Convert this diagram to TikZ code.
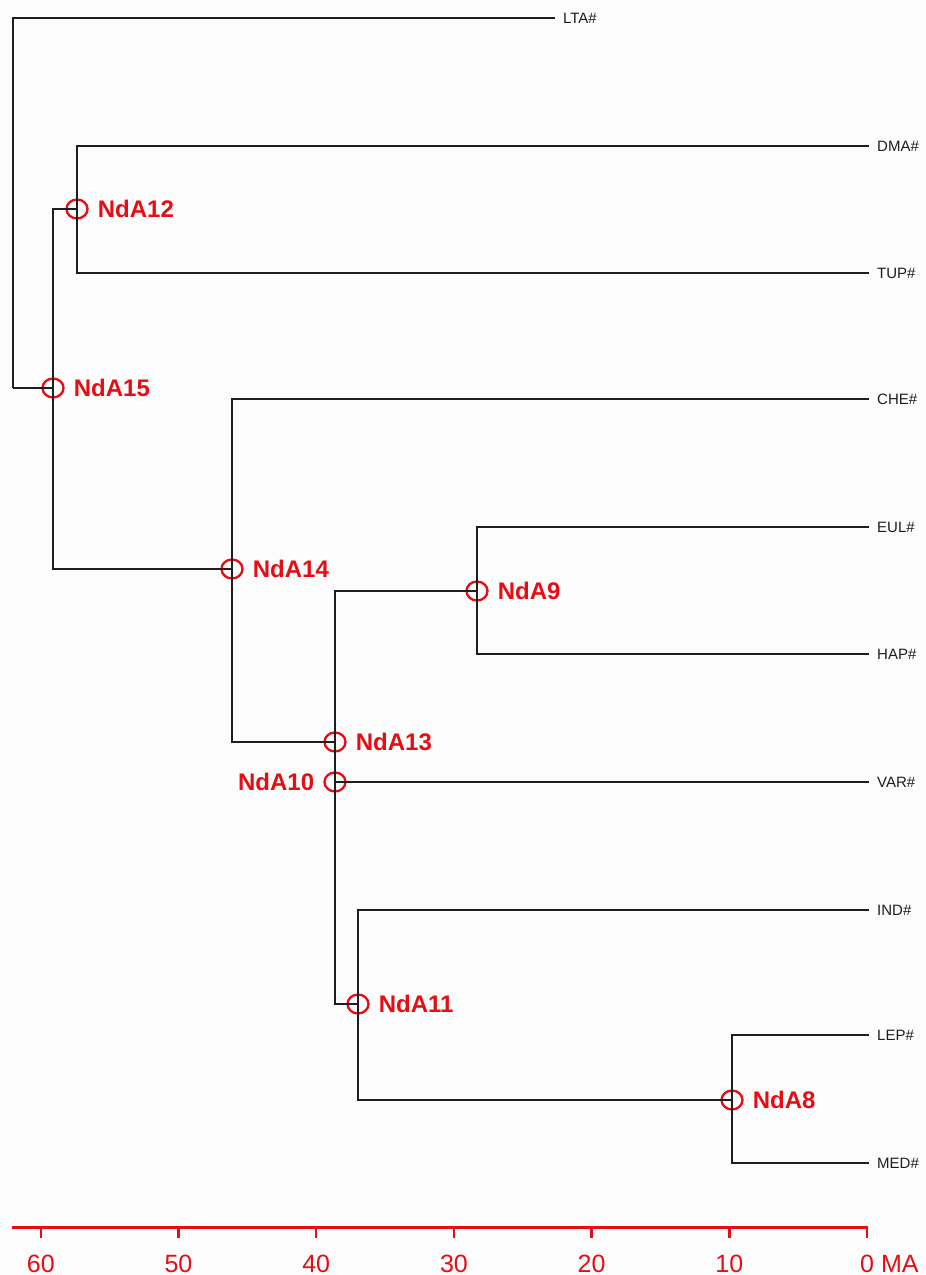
\documentclass[tikz,border=0pt]{standalone}
\usepackage{fontspec}
\setmainfont{Liberation Sans}
\usepackage{xcolor}
\usepackage{tikz}
\usetikzlibrary{positioning,shapes.geometric}

\definecolor{ndred}{RGB}{228,14,20}
\definecolor{branchcol}{RGB}{30,30,30}
\definecolor{paper}{RGB}{252,252,252}

\begin{document}
\begin{tikzpicture}[
  x=1pt, y=-1pt,
  branch/.style={draw=branchcol, line width=2pt},
  nd/.style={draw=ndred, ellipse, line width=2.3pt, minimum width=21pt, minimum height=19pt, inner sep=0pt},
  ndlabel/.style={text=ndred, inner sep=1pt, font=\fontsize{24}{26}\selectfont\bfseries},
  leaf/.style={anchor=west, inner sep=8pt, text=branchcol, font=\fontsize{15}{17}\selectfont},
  ageaxis/.style={draw=ndred, line width=3pt},
  agetick/.style={draw=ndred, line width=2.5pt},
  agelabel/.style={text=ndred, inner sep=0pt, font=\fontsize{25}{27}\selectfont}
]
\fill[paper] (0,0) rectangle (926,1275);
\useasboundingbox (0,0) rectangle (926,1275);

% internal nodes
\coordinate (root) at (13,388);
\node[nd] (n15) at (53,388) {};
\node[nd] (n12) at (77,209) {};
\node[nd] (n14) at (232,569) {};
\node[nd] (n13) at (335,742) {};
\node[nd] (n10) at (335,782) {};
\node[nd] (n9) at (477,591) {};
\node[nd] (n11) at (358,1004) {};
\node[nd] (n8) at (732,1100) {};

\node[ndlabel, right=8pt of n15] (l15) {NdA15};
\node[ndlabel, right=8pt of n12] (l12) {NdA12};
\node[ndlabel, right=8pt of n14] (l14) {NdA14};
\node[ndlabel, right=8pt of n13] (l13) {NdA13};
\node[ndlabel, left=8pt of n10] (l10) {NdA10};
\node[ndlabel, right=8pt of n9] (l9) {NdA9};
\node[ndlabel, right=8pt of n11] (l11) {NdA11};
\node[ndlabel, right=8pt of n8] (l8) {NdA8};

% leaves
\node[leaf] (lta) at (555,18) {LTA\#};
\node[leaf] (dma) at (869,146) {DMA\#};
\node[leaf] (tup) at (869,273) {TUP\#};
\node[leaf] (che) at (869,399) {CHE\#};
\node[leaf] (eul) at (869,527) {EUL\#};
\node[leaf] (hap) at (869,654) {HAP\#};
\node[leaf] (var) at (869,782) {VAR\#};
\node[leaf] (ind) at (869,910) {IND\#};
\node[leaf] (lep) at (869,1035) {LEP\#};
\node[leaf] (med) at (869,1163) {MED\#};

% branches
\draw[branch] (root) |- (lta.west);
\draw[branch] (root) |- (n15.center);
\draw[branch] (n15.center) |- (n12.center);
\draw[branch] (n15.center) |- (n14.center);
\draw[branch] (n12.center) |- (dma.west);
\draw[branch] (n12.center) |- (tup.west);
\draw[branch] (n14.center) |- (che.west);
\draw[branch] (n14.center) |- (n13.center);
\draw[branch] (n13.center) |- (n9.center);
\draw[branch] (n13.center) -- (n10.center);
\draw[branch] (n9.center) |- (eul.west);
\draw[branch] (n9.center) |- (hap.west);
\draw[branch] (n10.center) -- (var.west);
\draw[branch] (n10.center) |- (n11.center);
\draw[branch] (n11.center) |- (ind.west);
\draw[branch] (n11.center) |- (n8.center);
\draw[branch] (n8.center) |- (lep.west);
\draw[branch] (n8.center) |- (med.west);

% time axis
\coordinate (axl) at (12,1227);
\coordinate (axr) at (867,1227);
\draw[ageaxis] (axl) -- (axr);
\foreach \ma in {0,10,...,60}
  \draw[agetick] ({867-13.77*\ma},1226) -- ++(0,12);
\foreach \ma in {10,20,...,60}
  \node[agelabel, anchor=base] (ma\ma) at ({867-13.77*\ma},1272) {\ma};
\node[agelabel, anchor=base west] (ma0) at (860,1272) {0 MA};
\end{tikzpicture}
\end{document}
